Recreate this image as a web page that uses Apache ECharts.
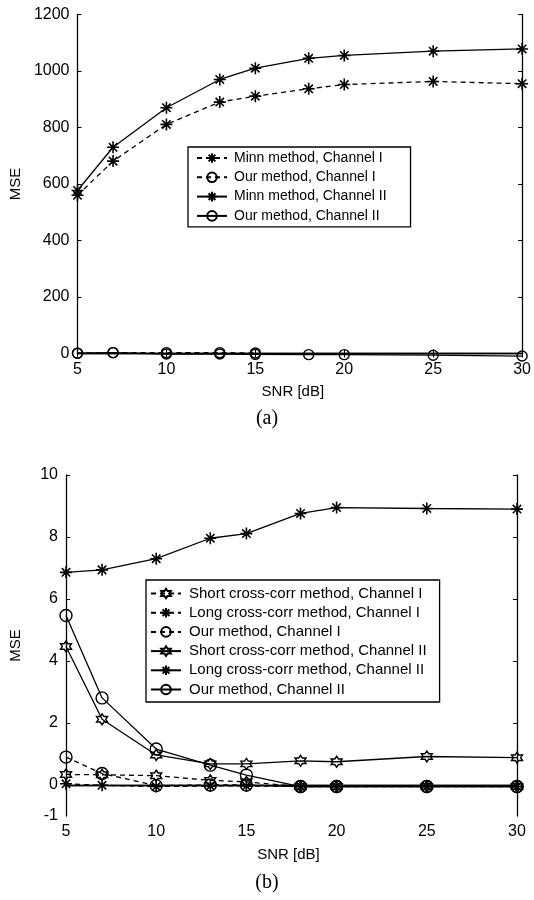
<!DOCTYPE html>
<html lang="en">
<head>
    <meta charset="UTF-8">
    <title>MSE vs SNR</title>
    <script src="https://cdn.jsdelivr.net/npm/echarts@6/dist/echarts.min.js"></script>
    <style>
        html, body { margin: 0; padding: 0; background: #fff; }
    </style>
</head>
<body>
    <div id="chart" style="width: 534px; height: 900px;"></div>
    <script>
        // SNR values (dB), same for both panels
        var snr = [5, 7, 10, 13, 15, 18, 20, 25, 30];

        // panel (a)
        var minnCh1 = [560, 681, 811, 890, 911, 937, 952, 963, 955];
        var ourCh1A = [1, 3, 3, 3, 2];
        var minnCh2 = [577, 730, 870, 970, 1010, 1045, 1055, 1070, 1078];
        var ourCh2A = [1, 3, -2, -2, -3, -4, -4, -6, -9];
        var ticksA = [0, 200, 400, 600, 800, 1000, 1200];

        // panel (b)
        var shortCh1 = [0.34, 0.33, 0.3, 0.15, 0.1, -0.05, -0.05, -0.05, -0.05];
        var longCh1 = [0.04, -0.01, -0.05, -0.03, -0.03, -0.05, -0.05, -0.05, -0.05];
        var ourCh1B = [0.9, 0.37, -0.02, 0, 0, -0.05, -0.05, -0.05, -0.05];
        var shortCh2 = [4.47, 2.12, 0.97, 0.68, 0.68, 0.78, 0.75, 0.92, 0.88];
        var longCh2 = [6.86, 6.94, 7.3, 7.96, 8.11, 8.76, 8.95, 8.92, 8.9];
        var ourCh2B = [5.47, 2.81, 1.16, 0.64, 0.32, -0.05, -0.05, -0.05, -0.05];
        var labelsB = [-1, 0, 2, 4, 6, 8, 10];
        var ticksB = [0, 2, 4, 6, 8, 10];

        var FONT = "'Liberation Sans', Arial, sans-serif";
        var STAR = 'path://M0,-10L0,10M-10,0L10,0M-7,-7L7,7M-7,7L7,-7';
        var HEX = 'path://M0,-10L2.887,-5L8.66,-5L5.77,0L8.66,5L2.887,5L0,10L-2.887,5L-8.66,5L-5.77,0L-8.66,-5L-2.887,-5Z';

        function pairs(vals) {
            return vals.map(function (v, i) { return [snr[i], v]; });
        }

        function line(name, idx, vals, symbol, size, dashed) {
            return {
                name: name,
                type: 'line',
                xAxisIndex: idx * 2,
                yAxisIndex: idx * 2,
                data: pairs(vals),
                symbol: symbol,
                symbolSize: size,
                showAllSymbol: true,
                clip: false,
                animation: false,
                lineStyle: { color: '#000', width: 1.3, type: dashed ? [5, 4] : 'solid' },
                itemStyle: { color: 'transparent', borderColor: '#000', borderWidth: symbol === STAR ? 1.6 : 1.4 }
            };
        }

        function plain(v) { return String(v); }

        function xAxes(idx, gap, shift) {
            return [{
                type: 'value', gridIndex: idx, min: 5, max: 30, interval: 5,
                name: 'SNR [dB]', nameLocation: 'middle', nameGap: gap,
                nameTextStyle: { color: '#000', fontFamily: FONT, fontSize: 15, padding: [0, shift, 0, 0] },
                axisLine: { lineStyle: { color: '#000', width: 1.3 } },
                axisTick: { inside: true, length: 4, lineStyle: { color: '#000' } },
                axisLabel: { color: '#000', fontFamily: FONT, fontSize: 16, margin: 8, formatter: plain },
                splitLine: { show: false }
            }, {
                type: 'value', gridIndex: idx, min: 5, max: 30, interval: 5, position: 'top',
                axisLine: { lineStyle: { color: '#000', width: 1.3 } },
                axisTick: { inside: true, length: 4, lineStyle: { color: '#000' } },
                axisLabel: { show: false },
                splitLine: { show: false }
            }];
        }

        function yAxes(idx, min, max, interval, labels, ticks, gap) {
            return [{
                type: 'value', gridIndex: idx, min: min, max: max, interval: interval,
                name: 'MSE', nameLocation: 'middle', nameGap: gap,
                nameTextStyle: { color: '#000', fontFamily: FONT, fontSize: 15 },
                axisLine: { lineStyle: { color: '#000', width: 1.3 } },
                axisTick: { inside: true, length: 4, customValues: ticks, lineStyle: { color: '#000' } },
                axisLabel: { color: '#000', fontFamily: FONT, fontSize: 16, margin: 8, customValues: labels, formatter: plain },
                splitLine: { show: false }
            }, {
                type: 'value', gridIndex: idx, min: min, max: max, interval: interval, position: 'right',
                axisLine: { lineStyle: { color: '#000', width: 1.3 } },
                axisTick: { inside: true, length: 4, customValues: ticks, lineStyle: { color: '#000' } },
                axisLabel: { show: false },
                splitLine: { show: false }
            }];
        }

        var namesA = ['Minn method, Channel I', 'Our method, Channel I', 'Minn method, Channel II', 'Our method, Channel II'];
        var namesB = ['Short cross-corr method, Channel I', 'Long cross-corr method, Channel I', 'Our method, Channel I',
            'Short cross-corr method, Channel II', 'Long cross-corr method, Channel II', 'Our method, Channel II'];

        var legendBase = {
            orient: 'vertical',
            backgroundColor: '#fff',
            borderColor: '#000',
            borderWidth: 1.3,
            borderRadius: 0,
            itemWidth: 30,
            itemHeight: 12,
            selectedMode: false
        };

        var chart = echarts.init(document.getElementById('chart'), null, { renderer: 'canvas' });
        chart.setOption({
            backgroundColor: '#fff',
            animation: false,
            title: [
                { text: '(a)', left: 'center', top: 404, textStyle: { fontFamily: "'Liberation Serif', serif", fontSize: 20, fontWeight: 'normal', color: '#000' } },
                { text: '(b)', left: 'center', top: 868, textStyle: { fontFamily: "'Liberation Serif', serif", fontSize: 20, fontWeight: 'normal', color: '#000' } }
            ],
            grid: [
                { left: 73, top: 14.5, width: 453.5, height: 339 },
                { left: 65.5, top: 475, width: 451.5, height: 341 }
            ],
            xAxis: xAxes(0, 31, 14).concat(xAxes(1, 31, 6)),
            yAxis: yAxes(0, 0, 1200, 200, ticksA, ticksA, 47).concat(yAxes(1, -1, 10, 1, labelsB, ticksB, 43)),
            legend: [
                Object.assign({}, legendBase, {
                    data: namesA, left: 188, top: 147, padding: [4, 24, 4, 8], itemGap: 5.3,
                    textStyle: { color: '#000', fontFamily: FONT, fontSize: 14, padding: [0, 0, 0, 2] }
                }),
                Object.assign({}, legendBase, {
                    data: namesB, left: 146, top: 580, padding: [6, 13, 5, 4], itemGap: 4.2,
                    textStyle: { color: '#000', fontFamily: FONT, fontSize: 15, padding: [0, 0, 0, 3] }
                })
            ],
            series: [
                line(namesA[0], 0, minnCh1, STAR, 12, true),
                line(namesA[1], 0, ourCh1A, 'circle', 10, true),
                line(namesA[2], 0, minnCh2, STAR, 12, false),
                line(namesA[3], 0, ourCh2A, 'circle', 10, false),
                line(namesB[0], 1, shortCh1, HEX, 11, true),
                line(namesB[1], 1, longCh1, STAR, 12, true),
                line(namesB[2], 1, ourCh1B, 'circle', 12, true),
                line(namesB[3], 1, shortCh2, HEX, 11, false),
                line(namesB[4], 1, longCh2, STAR, 12, false),
                line(namesB[5], 1, ourCh2B, 'circle', 12, false)
            ]
        });
    </script>
</body>
</html>
